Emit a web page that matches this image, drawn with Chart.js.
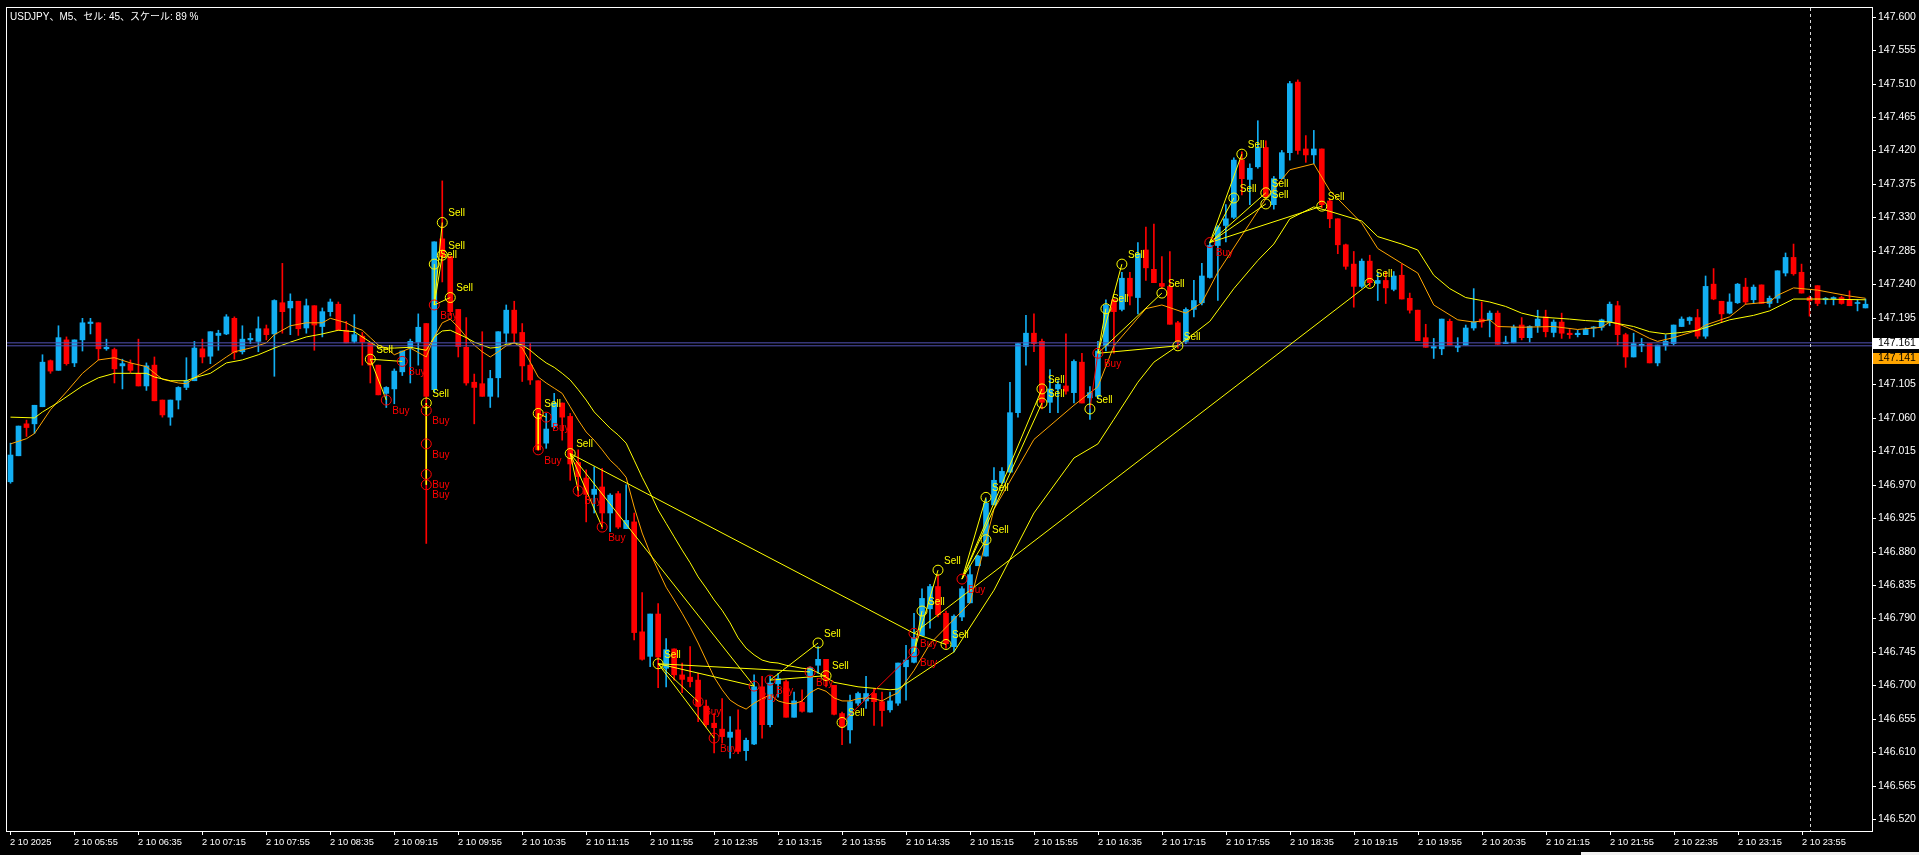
<!DOCTYPE html>
<html>
<head>
<meta charset="utf-8">
<script src="https://cdn.jsdelivr.net/npm/chart.js@4.4.1/dist/chart.umd.min.js"></script>
<style>
html,body{margin:0;padding:0;background:#000;overflow:hidden}
canvas{display:block}
</style>
</head>
<body>
<canvas id="chart" width="1919" height="855"></canvas>
<script>
// USDJPY M5, 2025-02-10 05:15 .. 2025-02-11 00:35
const opens = [146.974,147.009,147.052,147.052,147.075,147.137,147.124,147.165,147.134,147.165,
147.187,147.188,147.153,147.152,147.130,147.133,147.120,147.103,147.131,147.084,
147.061,147.084,147.101,147.110,147.153,147.143,147.171,147.173,147.194,147.149,
147.165,147.163,147.180,147.173,147.215,147.208,147.217,147.181,147.211,147.183,
147.203,147.213,147.178,147.163,147.170,147.161,147.131,147.093,147.099,147.122,
147.154,147.162,147.187,147.098,147.301,147.277,147.206,147.155,147.108,147.106,
147.089,147.114,147.174,147.205,147.175,147.131,147.110,147.026,147.048,147.080,
147.062,147.000,146.979,146.957,146.967,146.932,146.958,146.911,146.920,146.772,
146.739,146.796,146.723,146.749,146.714,146.711,146.707,146.672,146.649,146.641,
146.630,146.640,146.612,146.621,146.698,146.647,146.702,146.705,146.657,146.677,
146.664,146.727,146.735,146.700,146.662,146.640,146.676,146.679,146.689,146.678,
146.667,146.676,146.725,146.731,146.767,146.803,146.833,146.797,146.752,146.792,
146.811,146.861,146.874,146.943,146.973,146.987,147.067,147.156,147.174,147.163,
147.081,147.099,147.103,147.094,147.135,147.087,147.089,147.157,147.219,147.206,
147.248,147.222,147.286,147.260,147.241,147.237,147.188,147.163,147.206,147.215,
147.249,147.292,147.319,147.330,147.407,147.381,147.398,147.424,147.347,147.382,
147.417,147.512,147.422,147.414,147.422,147.352,147.328,147.293,147.267,147.237,
147.271,147.241,147.245,147.233,147.252,147.221,147.205,147.168,147.154,147.153,
147.190,147.155,147.158,147.181,147.193,147.192,147.201,147.160,147.161,147.185,
147.168,147.184,147.196,147.175,147.189,147.174,147.172,147.172,147.181,147.182,
147.189,147.211,147.172,147.142,147.157,147.160,147.134,147.157,147.160,147.183,
147.191,147.195,147.170,147.240,147.217,147.201,147.215,147.236,147.219,147.239,
147.214,147.221,147.255,147.276,147.256,147.222,147.238,147.219,147.220,147.222,
147.219,147.214,147.208]
const highs = [147.026,147.049,147.057,147.077,147.145,147.138,147.184,147.169,147.165,147.194,
147.194,147.188,147.166,147.154,147.139,147.138,147.166,147.134,147.142,147.084,
147.084,147.102,147.141,147.163,147.166,147.176,147.178,147.199,147.196,147.184,
147.174,147.196,147.185,147.219,147.268,147.227,147.217,147.220,147.211,147.208,
147.220,147.216,147.190,147.199,147.175,147.161,147.131,147.102,147.126,147.150,
147.166,147.200,147.187,147.297,147.379,147.278,147.206,147.195,147.119,147.176,
147.124,147.176,147.212,147.217,147.187,147.160,147.110,147.066,147.093,147.080,
147.066,147.017,146.990,146.994,146.992,146.958,146.961,146.970,146.932,146.825,
146.796,146.810,146.763,146.749,146.730,146.752,146.716,146.680,146.662,146.682,
146.658,146.667,146.629,146.714,146.712,146.712,146.716,146.707,146.691,146.694,
146.725,146.752,146.735,146.700,146.664,146.687,146.691,146.712,146.696,146.691,
146.691,146.730,146.754,146.797,146.830,146.836,146.849,146.800,146.795,146.833,
146.861,146.875,146.951,146.993,146.993,147.108,147.160,147.198,147.200,147.166,
147.125,147.110,147.173,147.138,147.147,147.102,147.163,147.219,147.220,147.256,
147.256,147.296,147.317,147.321,147.277,147.284,147.190,147.208,147.245,147.268,
147.297,147.319,147.347,147.410,147.418,147.402,147.460,147.433,147.385,147.420,
147.513,147.515,147.440,147.447,147.422,147.355,147.328,147.294,147.284,147.274,
147.279,147.256,147.257,147.257,147.267,147.228,147.205,147.186,147.167,147.193,
147.193,147.168,147.185,147.234,147.216,147.204,147.204,147.170,147.185,147.195,
147.184,147.205,147.205,147.192,147.201,147.179,147.178,147.181,147.183,147.193,
147.216,147.217,147.174,147.174,147.167,147.160,147.158,147.172,147.185,147.196,
147.196,147.206,147.251,147.261,147.217,147.227,147.241,147.248,147.239,147.239,
147.224,147.258,147.282,147.294,147.267,147.224,147.238,147.222,147.223,147.224,
147.231,147.219,147.220]
const lows = [146.972,147.009,147.035,147.039,147.075,147.120,147.124,147.131,147.129,147.150,
147.173,147.138,147.151,147.107,147.099,147.121,147.103,147.097,147.083,147.061,
147.050,147.072,147.098,147.110,147.134,147.133,147.151,147.172,147.139,147.146,
147.160,147.149,147.165,147.116,147.174,147.172,147.171,147.174,147.151,147.169,
147.197,147.178,147.161,147.161,147.131,147.107,147.091,147.074,147.079,147.117,
147.107,147.131,146.891,147.095,147.243,147.198,147.142,147.104,147.052,147.089,
147.074,147.088,147.160,147.160,147.109,147.105,147.016,147.019,147.046,147.030,
146.976,146.954,146.920,146.932,146.911,146.907,146.911,146.911,146.761,146.734,
146.725,146.697,146.698,146.707,146.690,146.698,146.651,146.644,146.609,146.622,
146.602,146.608,146.599,146.620,146.629,146.644,146.684,146.657,146.657,146.664,
146.664,146.716,146.698,146.660,146.620,146.622,146.673,146.669,146.646,146.645,
146.664,146.673,146.680,146.730,146.767,146.777,146.792,146.750,146.745,146.787,
146.811,146.861,146.874,146.943,146.971,146.987,147.061,147.131,147.149,147.072,
147.067,147.067,147.092,147.080,147.080,147.058,147.086,147.150,147.147,147.204,
147.212,147.200,147.245,147.242,147.234,147.186,147.154,147.160,147.196,147.212,
147.248,147.218,147.297,147.328,147.360,147.347,147.396,147.355,147.341,147.382,
147.407,147.415,147.404,147.402,147.343,147.316,147.281,147.260,147.209,147.235,
147.237,147.218,147.214,147.231,147.220,147.201,147.164,147.155,147.140,147.145,
147.158,147.149,147.158,147.178,147.182,147.169,147.159,147.160,147.161,147.165,
147.162,147.175,147.169,147.169,147.167,147.167,147.169,147.172,147.169,147.178,
147.184,147.158,147.128,147.142,147.149,147.134,147.130,147.151,147.158,147.183,
147.186,147.167,147.167,147.219,147.189,147.200,147.214,147.213,147.214,147.214,
147.209,147.215,147.251,147.252,147.228,147.197,147.211,147.213,147.212,147.213,
147.211,147.204,147.208]
const closes = [147.010,147.049,147.047,147.077,147.135,147.123,147.168,147.133,147.165,147.188,
147.189,147.153,147.155,147.126,147.133,147.124,147.103,147.130,147.083,147.064,
147.084,147.101,147.110,147.154,147.142,147.176,147.174,147.196,147.148,147.166,
147.167,147.180,147.172,147.218,147.203,147.217,147.180,147.211,147.185,147.203,
147.216,147.178,147.161,147.172,147.162,147.131,147.091,147.101,147.123,147.150,
147.163,147.182,147.089,147.297,147.277,147.203,147.156,147.107,147.101,147.089,
147.113,147.176,147.205,147.174,147.130,147.111,147.017,147.045,147.080,147.061,
146.998,146.981,146.957,146.964,146.932,146.956,146.913,146.922,146.771,146.735,
146.796,146.738,146.748,146.714,146.708,146.705,146.672,146.647,146.643,146.631,
146.637,146.611,146.626,146.698,146.647,146.703,146.709,146.657,146.679,146.665,
146.724,146.735,146.707,146.661,146.644,146.678,146.689,146.689,146.678,146.666,
146.679,146.730,146.734,146.764,146.817,146.833,146.795,146.756,146.793,146.830,
146.849,146.874,146.945,146.976,146.988,147.067,147.160,147.174,147.160,147.081,
147.099,147.105,147.096,147.136,147.080,147.094,147.150,147.212,147.203,147.248,
147.224,147.281,147.262,147.242,147.237,147.186,147.163,147.206,147.218,147.251,
147.292,147.317,147.328,147.407,147.382,147.396,147.424,147.358,147.382,147.417,
147.510,147.420,147.414,147.422,147.347,147.328,147.293,147.264,147.237,147.271,
147.242,147.245,147.235,147.251,147.220,147.205,147.164,147.155,147.156,147.193,
147.158,147.157,147.181,147.189,147.189,147.201,147.159,147.162,147.182,147.168,
147.183,147.193,147.176,147.189,147.174,147.172,147.174,147.179,147.182,147.192,
147.213,147.172,147.142,147.160,147.159,147.134,147.158,147.163,147.185,147.193,
147.195,147.170,147.237,147.220,147.200,147.216,147.240,147.216,147.236,147.214,
147.221,147.258,147.276,147.254,147.228,147.218,147.214,147.221,147.222,147.214,
147.211,147.215,147.213]

// moving averages: [bar, price]
const fastMA = [[0,147.025],[2,147.032],[3,147.039],[5,147.071],[7,147.095],[9,147.120],[11,147.138],[13,147.141],[15,147.134],[17,147.129],
[19,147.112],[21,147.107],[22,147.106],[23,147.114],[25,147.127],[27,147.142],[28,147.149],[30,147.154],[32,147.161],[33,147.172],
[35,147.184],[37,147.188],[39,147.188],[40,147.194],[42,147.188],[43,147.182],[44,147.178],[45,147.168],[46,147.158],[47,147.154],
[48,147.145],[50,147.154],[52,147.142],[53,147.169],[54,147.188],[55,147.193],[56,147.182],[57,147.169],[58,147.158],[59,147.149],
[60,147.142],[61,147.149],[62,147.157],[63,147.161],[64,147.154],[65,147.135],[66,147.115],[67,147.107],[68,147.100],[69,147.093],
[70,147.075],[71,147.057],[72,147.041],[73,147.030],[74,147.017],[75,147.003],[76,146.993],[77,146.980],[78,146.940],[79,146.905],
[80,146.878],[81,146.855],[82,146.832],[83,146.815],[84,146.797],[85,146.778],[86,146.757],[87,146.734],[88,146.711],[89,146.694],
[90,146.680],[91,146.673],[92,146.668],[93,146.676],[94,146.682],[95,146.687],[96,146.679],[97,146.676],[98,146.675],[99,146.679],
[100,146.690],[101,146.696],[102,146.692],[103,146.683],[104,146.679],[105,146.679],[106,146.682],[107,146.683],[108,146.682],[109,146.679],
[110,146.685],[111,146.690],[113,146.720],[115,146.756],[120,146.811],[123,146.937],[128,147.031],[133,147.077],[136,147.102],[138,147.157],
[142,147.207],[144,147.212],[147,147.201],[149,147.215],[151,147.256],[155,147.322],[157,147.355],[160,147.394],[163,147.402],[165,147.366],
[169,147.322],[171,147.288],[174,147.268],[176,147.255],[178,147.212],[181,147.192],[183,147.189],[185,147.192],[186,147.183],[189,147.182],
[193,147.183],[196,147.179],[199,147.182],[200,147.189],[201,147.187],[203,147.178],[205,147.167],[206,147.163],[208,147.168],[211,147.178],
[212,147.185],[215,147.196],[217,147.213],[220,147.216],[221,147.225],[223,147.235],[226,147.232],[230,147.224],[232,147.221]]
const slowMA = [[0,147.061],[3,147.060],[4,147.068],[6,147.081],[9,147.103],[11,147.114],[13,147.120],[15,147.120],[17,147.120],[18,147.115],
[20,147.110],[22,147.110],[23,147.114],[25,147.120],[27,147.134],[29,147.138],[31,147.145],[33,147.154],[35,147.162],[37,147.169],
[39,147.173],[41,147.178],[43,147.176],[45,147.162],[46,147.155],[47,147.154],[48,147.154],[50,147.155],[52,147.151],[53,147.169],
[54,147.177],[55,147.178],[56,147.173],[57,147.168],[58,147.162],[59,147.158],[60,147.154],[61,147.155],[62,147.159],[63,147.161],
[64,147.158],[65,147.151],[66,147.142],[67,147.134],[68,147.128],[69,147.120],[70,147.111],[71,147.098],[72,147.084],[73,147.068],
[74,147.057],[75,147.046],[76,147.037],[77,147.026],[78,147.003],[79,146.980],[80,146.959],[81,146.936],[82,146.918],[83,146.900],
[84,146.882],[85,146.865],[86,146.846],[87,146.831],[88,146.815],[89,146.801],[90,146.784],[91,146.764],[92,146.750],[93,146.741],
[94,146.734],[95,146.731],[96,146.730],[97,146.727],[98,146.725],[99,146.723],[100,146.722],[101,146.717],[102,146.711],[103,146.704],
[104,146.702],[105,146.700],[106,146.698],[108,146.696],[110,146.694],[111,146.695],[118,146.745],[123,146.828],[128,146.932],[133,147.006],
[136,147.025],[138,147.058],[141,147.108],[143,147.135],[146,147.157],[150,147.190],[153,147.234],[156,147.272],[158,147.294],[160,147.328],
[163,147.344],[165,147.338],[169,147.325],[171,147.304],[174,147.294],[176,147.286],[178,147.252],[180,147.234],[182,147.222],[185,147.216],
[187,147.210],[189,147.201],[191,147.196],[195,147.193],[197,147.191],[200,147.189],[203,147.183],[205,147.176],[207,147.173],[209,147.175],
[211,147.178],[213,147.185],[215,147.192],[218,147.198],[220,147.204],[223,147.220],[226,147.220],[232,147.219]]

// signal marks
const sigIdx = [45,47,49,52,52,52,52,52,53,53,54,54,55,66,66,67,70,71,74,81,86,88,93,95,100,101,102,104,
113,113,114,116,117,119,122,122,129,129,135,136,137,139,144,146,150,153,154,157,157,164,170]
const sigPrice = [147.139,147.084,147.136,147.080,147.070,147.025,146.984,146.970,147.267,147.212,147.323,147.279,147.222,
147.066,147.017,147.061,147.012,146.962,146.913,146.729,146.678,146.629,146.699,146.707,146.718,146.757,146.713,146.650,
146.770,146.745,146.800,146.855,146.755,146.843,146.896,146.953,147.099,147.080,147.072,147.147,147.207,147.267,147.228,
147.157,147.296,147.356,147.415,147.363,147.348,147.345,147.241]
const sigType = ['Sell','Buy','Buy','Sell','Buy','Buy','Buy','Buy','Sell','Buy','Sell','Sell','Sell','Sell','Buy','Buy',
'Sell','Buy','Buy','Sell','Buy','Buy','Buy','Buy','Buy','Sell','Sell','Sell','Buy','Buy','Sell','Sell','Sell','Buy',
'Sell','Sell','Sell','Sell','Sell','Buy','Sell','Sell','Sell','Sell','Buy','Sell','Sell','Sell','Sell','Sell','Sell']
// lines between signal marks (index into the lists above)
const sigLinks = [[0,1],[0,2],[3,7],[9,8],[9,10],[9,11],[9,12],[13,14],[13,15],[16,17],[16,18],[16,22],[16,28],
[19,20],[19,21],[19,22],[19,24],[23,25],[23,26],[27,29,'red'],[29,30],[29,31],[28,32],[33,34],[33,35],[33,36],[33,37],
[38,39,'red'],[39,40],[39,41],[39,42],[39,43],[44,45],[44,46],[44,47],[44,48],[44,49],[28,50]]

const yTicks = [147.600,147.555,147.510,147.465,147.420,147.375,147.330,147.285,147.240,147.195,147.105,147.060,
147.015,146.970,146.925,146.880,146.835,146.790,146.745,146.700,146.655,146.610,146.565,146.520]
const timeIdx = [0,8,16,24,32,40,48,56,64,72,80,88,96,104,112,120,128,136,144,152,160,168,176,184,192,200,208,216,224]
const timeLabels = ['2 10 2025','2 10 05:55','2 10 06:35','2 10 07:15','2 10 07:55','2 10 08:35','2 10 09:15','2 10 09:55',
'2 10 10:35','2 10 11:15','2 10 11:55','2 10 12:35','2 10 13:15','2 10 13:55','2 10 14:35','2 10 15:15','2 10 15:55',
'2 10 16:35','2 10 17:15','2 10 17:55','2 10 18:35','2 10 19:15','2 10 19:55','2 10 20:35','2 10 21:15','2 10 21:55',
'2 10 22:35','2 10 23:15','2 10 23:55']
const daySepIdx = 225
const askBidLines = [147.161, 147.157]
const priceTags = [147.161, 147.141]
const title = 'USDJPY、M5、セル: 45、スケール: 89 %'

const BULL = '#12AEF2'
const BEAR = '#FF0000'
const candleColors = opens.map((o, i) => closes[i] >= o ? BULL : BEAR)

var datasets = []
datasets.push({
	type: 'bar',
	data: opens.map((o, i) => ({x: i, y: [lows[i], highs[i]]})),
	backgroundColor: candleColors,
	barThickness: 1, grouped: false, order: 10
})
datasets.push({
	type: 'bar',
	data: opens.map((o, i) => ({x: i, y: [o, closes[i]]})),
	backgroundColor: candleColors,
	barThickness: 5, grouped: false, minBarLength: 1, order: 9
})
datasets.push({
	type: 'line', data: slowMA.map(p => ({x: p[0], y: p[1]})),
	borderColor: '#FFFF00', borderWidth: 1, pointRadius: 0, tension: 0, order: 8
})
datasets.push({
	type: 'line', data: fastMA.map(p => ({x: p[0], y: p[1]})),
	borderColor: '#FFA500', borderWidth: 1, pointRadius: 0, tension: 0, order: 8
})
askBidLines.forEach(v => {
	datasets.push({
		type: 'line', data: [{x: -1, y: v}, {x: 240, y: v}],
		borderColor: '#5252B4', borderWidth: 1, pointRadius: 0, order: 7
	})
})
sigLinks.forEach(s => {
	datasets.push({
		type: 'line',
		data: [{x: sigIdx[s[0]], y: sigPrice[s[0]]}, {x: sigIdx[s[1]], y: sigPrice[s[1]]}],
		borderColor: s[2] === 'red' ? '#FF0000' : '#FFFF00',
		borderWidth: 1, pointRadius: 0, order: 6
	})
})
datasets.push({
	type: 'line', showLine: false,
	data: sigIdx.map((k, i) => ({x: k, y: sigPrice[i]})),
	pointRadius: 5, pointBorderWidth: 1,
	pointBackgroundColor: 'rgba(0,0,0,0)',
	pointBorderColor: sigType.map(t => t === 'Sell' ? '#FFFF00' : '#FF0000'),
	order: 5
})

const FONT = '"Liberation Sans", Arial, "Noto Sans CJK JP", sans-serif'

const mtPlugin = {
	id: 'mt4look',
	beforeDraw(chart) {
		const c = chart.ctx
		c.save()
		c.fillStyle = '#000'
		c.fillRect(0, 0, chart.width, chart.height)
		c.restore()
	},
	afterDatasetsDraw(chart) {
		const c = chart.ctx, xs = chart.scales.x, ys = chart.scales.y
		c.save()
		c.font = '10px ' + FONT
		c.textBaseline = 'middle'
		c.textAlign = 'left'
		for (let i = 0; i < sigIdx.length; i++) {
			const px = xs.getPixelForValue(sigIdx[i])
			const py = ys.getPixelForValue(sigPrice[i])
			if (sigType[i] === 'Sell') {
				c.fillStyle = '#FFFF00'
				c.fillText('Sell', px + 6, py - 9)
			} else {
				c.fillStyle = '#FF0000'
				c.fillText('Buy', px + 6, py + 11)
			}
		}
		c.restore()
	},
	afterDraw(chart) {
		const c = chart.ctx, a = chart.chartArea, xs = chart.scales.x, ys = chart.scales.y
		c.save()

		// day separator
		const sx = Math.round(xs.getPixelForValue(daySepIdx)) + 0.5
		c.strokeStyle = '#D8D8D8'
		c.lineWidth = 1
		c.setLineDash([3, 3])
		c.beginPath(); c.moveTo(sx, a.top + 1); c.lineTo(sx, a.bottom); c.stroke()
		c.setLineDash([])

		// frame
		c.strokeStyle = '#FFFFFF'
		c.strokeRect(a.left + 0.5, a.top + 0.5, a.right - a.left, a.bottom - a.top)

		// price axis
		c.fillStyle = '#FFFFFF'
		c.font = '10.5px ' + FONT
		c.textAlign = 'left'
		c.textBaseline = 'middle'
		yTicks.forEach(v => {
			const y = Math.round(ys.getPixelForValue(v)) + 0.5
			c.beginPath(); c.moveTo(a.right, y); c.lineTo(a.right + 4, y); c.stroke()
			c.fillText(v.toFixed(3), a.right + 6, y)
		})

		// price tags
		const tagBg = ['#FFFFFF', '#FFA500']
		priceTags.forEach((v, i) => {
			const y = Math.round(ys.getPixelForValue(v))
			c.fillStyle = tagBg[i]
			c.fillRect(a.right + 1, y - 5, chart.width - a.right - 1, 11)
			c.fillStyle = '#000000'
			c.fillText(v.toFixed(3), a.right + 6, y + 0.5)
		})

		// time axis
		c.fillStyle = '#FFFFFF'
		c.font = '9.3px ' + FONT
		timeIdx.forEach((k, j) => {
			const x = Math.round(xs.getPixelForValue(k)) + 0.5
			c.beginPath(); c.moveTo(x, a.bottom); c.lineTo(x, a.bottom + 4); c.stroke()
			c.fillText(timeLabels[j], x - 0.5, a.bottom + 11)
		})

		// title
		c.font = '10px ' + FONT
		c.fillText(title, a.left + 4, a.top + 10)

		// window status strip
		c.fillStyle = '#F0F0F0'
		c.fillRect(1581, chart.height - 3, chart.width - 1581, 3)
		c.restore()
	}
}

new Chart(document.getElementById('chart').getContext('2d'), {
	type: 'bar',
	data: {datasets: datasets},
	options: {
		responsive: false,
		animation: false,
		devicePixelRatio: 1,
		layout: {padding: {left: 5, right: 47, top: 7, bottom: 24}},
		plugins: {legend: {display: false}, tooltip: {enabled: false}},
		scales: {
			x: {type: 'linear', min: -0.5625, max: 232.8125, offset: false, display: false},
			y: {type: 'linear', min: 146.5039, max: 147.6131, beginAtZero: false, display: false}
		}
	},
	plugins: [mtPlugin]
})
</script>
</body>
</html>
